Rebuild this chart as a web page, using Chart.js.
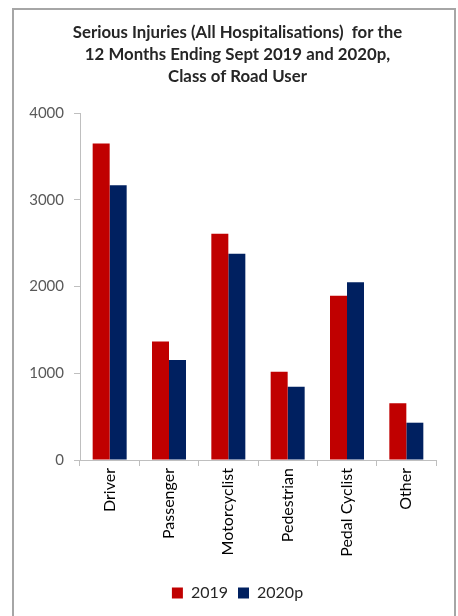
<!DOCTYPE html>
<html>
<head>
<meta charset="utf-8">
<script src="https://cdn.jsdelivr.net/npm/chart.js@4.4.0/dist/chart.umd.min.js"></script>
<style>
  body { margin: 0; background: #fff; }
</style>
</head>
<body>
<canvas id="injuryChart" width="458" height="616"></canvas>
<script>
var roadUsers = ['Driver', 'Passenger', 'Motorcyclist', 'Pedestrian', 'Pedal Cyclist', 'Other'];
var injuries2019 = [3650, 1365, 2608, 1018, 1894, 653];
var injuries2020p = [3166, 1153, 2378, 845, 2048, 430];
var yTicks = [0, 1000, 2000, 3000, 4000];

var frameBorder = {
    id: 'frameBorder',
    beforeDraw: function (chart) {
        var c = chart.ctx;
        c.save();
        c.fillStyle = '#fff';
        c.fillRect(0, 0, chart.width, chart.height);
        c.strokeStyle = '#a6a6a6';
        c.lineWidth = 2;
        c.strokeRect(13, 9, 442, 700);
        c.restore();
    }
};

var ctx = document.getElementById('injuryChart').getContext('2d');

var myChart = new Chart(ctx, {
    type: 'bar',
    data: {
        labels: roadUsers,
        datasets: [{
            label: '2019',
            data: injuries2019,
            backgroundColor: '#c00000'
        }, {
            label: '2020p',
            data: injuries2020p,
            backgroundColor: '#002060'
        }]
    },
    plugins: [frameBorder],
    options: {
        responsive: false,
        animation: false,
        layout: {
            padding: { top: 8, left: 19, right: 2, bottom: 5 }
        },
        datasets: {
            bar: { categoryPercentage: 0.573, barPercentage: 1.0 }
        },
        plugins: {
            title: {
                display: true,
                text: ['Serious Injuries (All Hospitalisations)  for the',
                       '12 Months Ending Sept 2019 and 2020p,',
                       'Class of Road User'],
                color: '#262626',
                font: { family: 'Lato', size: 16.8, weight: 'bold', lineHeight: 1.31 },
                padding: { top: 14, bottom: 25 }
            },
            legend: {
                position: 'bottom',
                labels: {
                    boxWidth: 11,
                    boxHeight: 11,
                    color: '#262626',
                    font: { family: 'Lato', size: 16 },
                    padding: 10
                }
            },
            tooltip: { enabled: false }
        },
        scales: {
            y: {
                min: 0,
                max: 4000,
                afterFit: function (scale) { scale.width = 61; },
                afterBuildTicks: function (scale) {
                    scale.ticks = yTicks.map(function (v) { return { value: v }; });
                },
                ticks: {
                    color: '#595959',
                    font: { family: 'Lato', size: 15 },
                    padding: 10,
                    callback: function (value) { return String(value); }
                },
                grid: {
                    drawOnChartArea: false,
                    drawTicks: true,
                    tickLength: 6,
                    color: '#bfbfbf'
                },
                border: { color: '#bfbfbf' }
            },
            spacer: {
                type: 'linear',
                position: 'right',
                afterFit: function (scale) { scale.width = 20; },
                ticks: { display: false },
                grid: { display: false },
                border: { display: false }
            },
            x: {
                afterFit: function (scale) { scale.height = 115; },
                ticks: {
                    color: '#000',
                    font: { family: 'Lato', size: 16 },
                    minRotation: 90,
                    maxRotation: 90,
                    padding: 2
                },
                grid: {
                    drawOnChartArea: false,
                    drawTicks: true,
                    tickLength: 6,
                    color: '#bfbfbf'
                },
                border: { color: '#bfbfbf' }
            }
        }
    }
});
</script>
</body>
</html>
